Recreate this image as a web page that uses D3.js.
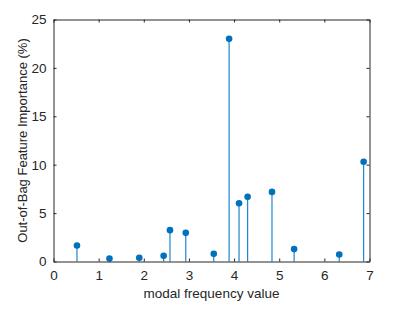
<!DOCTYPE html>
<html>
<head>
<meta charset="utf-8">
<script src="https://cdn.jsdelivr.net/npm/d3@7"></script>
<style>
  body { margin: 0; background: #fff; }
  text { font-family: "Liberation Sans", Arial, sans-serif; }
</style>
</head>
<body>
<div id="chart"></div>
<script>
// values
const freqValues = [0.52, 1.24, 1.90, 2.44, 2.58, 2.93, 3.55, 3.89, 4.11, 4.30, 4.84, 5.33, 6.33, 6.87];
const importance = [1.65, 0.31, 0.38, 0.59, 3.24, 2.96, 0.79, 23.0, 6.02, 6.68, 7.19, 1.28, 0.73, 10.3];
const xTicks = [0, 1, 2, 3, 4, 5, 6, 7];
const yTicks = [0, 5, 10, 15, 20, 25];

const width = 396;
const height = 311;
const margin = { top: 19.5, right: 26.5, bottom: 49.5, left: 53.5 };

const svg = d3.select("#chart")
    .append("svg")
    .attr("width", width)
    .attr("height", height);

const x = d3.scaleLinear().domain([0, 7]).range([margin.left, width - margin.right]);
const y = d3.scaleLinear().domain([0, 25]).range([height - margin.bottom, margin.top]);

const axisColor = "#262626";
const blue = "#0072BD";

// stems
svg.append("g")
    .selectAll("line")
    .data(freqValues)
    .join("line")
    .attr("x1", d => x(d))
    .attr("x2", d => x(d))
    .attr("y1", y(0))
    .attr("y2", (d, i) => y(importance[i]))
    .attr("stroke", "#1f86cf")
    .attr("stroke-width", 1.2);

// markers
svg.append("g")
    .selectAll("circle")
    .data(freqValues)
    .join("circle")
    .attr("cx", d => x(d))
    .attr("cy", (d, i) => y(importance[i]))
    .attr("r", 3.3)
    .attr("fill", blue);

// axes (ticks pointing inward, like MATLAB)
const fmt = d3.format("d");
const axBottom = svg.append("g")
    .attr("transform", `translate(0, ${y(0)})`)
    .call(d3.axisBottom(x).tickValues(xTicks).tickFormat(fmt).tickSizeInner(-3).tickSizeOuter(0).tickPadding(9));
const axLeft = svg.append("g")
    .attr("transform", `translate(${x(0)}, 0)`)
    .call(d3.axisLeft(y).tickValues(yTicks).tickFormat(fmt).tickSizeInner(-3).tickSizeOuter(0).tickPadding(7));
const axTop = svg.append("g")
    .attr("transform", `translate(0, ${y(25)})`)
    .call(d3.axisTop(x).tickValues(xTicks).tickSizeInner(-3).tickSizeOuter(0).tickFormat(""));
const axRight = svg.append("g")
    .attr("transform", `translate(${x(7)}, 0)`)
    .call(d3.axisRight(y).tickValues(yTicks).tickSizeInner(-3).tickSizeOuter(0).tickFormat(""));

[axBottom, axLeft, axTop, axRight].forEach(g => {
    g.selectAll("path, line").attr("stroke", axisColor);
    g.selectAll("text")
        .attr("fill", axisColor)
        .attr("font-size", "13.5px")
        .attr("font-family", "Liberation Sans, Arial, sans-serif");
});

// axis labels
svg.append("text")
    .attr("x", x(3.5))
    .attr("y", 298)
    .attr("text-anchor", "middle")
    .attr("font-size", "13.5px")
    .attr("fill", axisColor)
    .text("modal frequency value");

svg.append("text")
    .attr("transform", `translate(22, ${(y(0) + y(25)) / 2}) rotate(-90)`)
    .attr("text-anchor", "middle")
    .attr("dy", "0.35em")
    .attr("font-size", "13px")
    .attr("fill", axisColor)
    .text("Out-of-Bag Feature Importance (%)");
</script>
</body>
</html>
